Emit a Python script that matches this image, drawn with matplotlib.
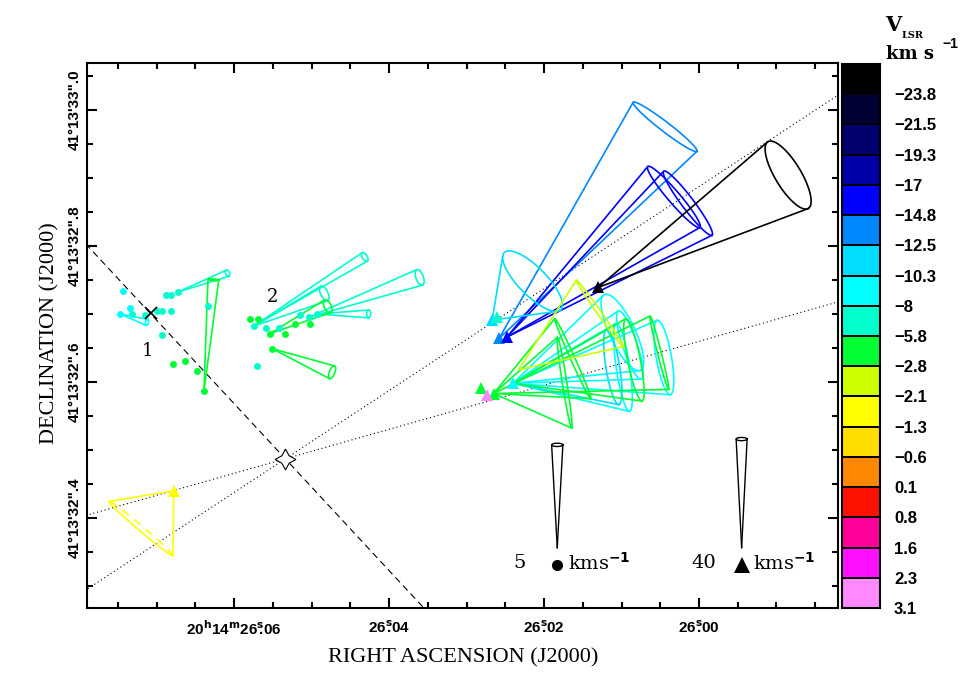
import numpy as np
import matplotlib.pyplot as plt
from matplotlib.colors import ListedColormap
from matplotlib.ticker import FixedLocator, MultipleLocator

plt.rcParams['mathtext.default'] = 'bf'

# ---------------- colour scale (V_LSR, km/s) ----------------
vlsr_levels = [-23.8, -21.5, -19.3, -17, -14.8, -12.5, -10.3, -8, -5.8,
               -2.8, -2.1, -1.3, -0.6, 0.1, 0.8, 1.6, 2.3, 3.1]
vlsr_colors = ['#000000', '#000033', '#00006e', '#0000a8', '#0000ff', '#0088ff',
               '#00ddff', '#00ffff', '#00ffcc', '#00ff33', '#ccff00', '#ffff00',
               '#ffdd00', '#ff8800', '#ff1100', '#ff0099', '#ff11ff', '#ff88ff']

# ---------------- source and reference lines ----------------
star_ra, star_dec = 26.0534, 32.487          # RA (s of 20h14m), Dec (" of 41d13')
line_pa = [42.6, 123.6, 106.0]                # position angles (deg)
line_style = [(0, (6, 4)), (0, (1, 2.5)), (0, (1, 2.5))]

# ---------------- circle features (5 km/s scale) ----------------
dot_ra = [26.0744, 26.0734, 26.0747, 26.0732, 26.0715, 26.0699, 26.0693, 26.0682,
          26.0693, 26.0688, 26.0682, 26.0673, 26.0634,
          26.0575, 26.0559, 26.0542, 26.0515, 26.0504, 26.0493, 26.0570,
          26.0679, 26.0663, 26.0648, 26.0639, 26.0579, 26.0569, 26.0554, 26.0535,
          26.0522, 26.0502, 26.0551]
dot_dec = [32.734, 32.709, 32.700, 32.700, 32.699, 32.704, 32.704, 32.705,
           32.669, 32.728, 32.728, 32.732, 32.711,
           32.682, 32.680, 32.679, 32.699, 32.695, 32.700, 32.624,
           32.626, 32.631, 32.616, 32.587, 32.692, 32.693, 32.671, 32.671,
           32.685, 32.685, 32.649]
dot_vlsr = [-8, -8, -8, -5.8, -5.8, -5.8, -5.8, -5.8, -5.8, -5.8, -5.8, -5.8, -5.8,
            -5.8, -5.8, -5.8, -5.8, -5.8, -5.8, -5.8,
            -2.8, -2.8, -2.8, -2.8, -2.8, -2.8, -2.8, -2.8, -2.8, -2.8, -2.8]

# 3D velocity cones of circle features: vx east, vy north (km/s)
dv_ra = [26.0747, 26.0673, 26.0639, 26.0575, 26.0575, 26.0504, 26.0493, 26.0554, 26.0551]
dv_dec = [32.700, 32.732, 32.587, 32.682, 32.682, 32.695, 32.700, 32.671, 32.649]
dv_vx = [-1.28, -2.40, -0.45, -5.34, -3.40, -5.34, -2.48, -2.78, -2.88]
dv_vy = [-0.41, 0.92, 5.39, 3.36, 1.59, 1.94, 0.0, 1.33, -1.15]
dv_err = [0.15, 0.16, 0.26, 0.24, 0.39, 0.40, 0.19, 0.34, 0.33]
dv_q = [0.5, 0.6, 0.15, 0.5, 0.45, 0.45, 0.5, 0.5, 0.4]
dv_vlsr = [-8, -5.8, -2.8, -5.8, -5.8, -5.8, -5.8, -2.8, -2.8]

# ---------------- triangle features (40 km/s scale) ----------------
tri_ra = [26.0258, 26.0248, 26.0130, 26.0267, 26.0261, 26.0240, 26.0265, 26.0282, 26.0274, 26.0678]
tri_dec = [32.664, 32.666, 32.739, 32.691, 32.695, 32.598, 32.583, 32.591, 32.581, 32.440]
tri_vlsr = [-12.5, -14.8, -23.8, -10.3, -5.8, -8, -2.8, -2.8, 3.1, -1.3]

tv_ra = [26.0258, 26.0248, 26.0248, 26.0130, 26.0267, 26.0240, 26.0240, 26.0240,
         26.0240, 26.0240, 26.0265, 26.0265, 26.0265, 26.0240, 26.0233, 26.0678]
tv_dec = [32.664, 32.666, 32.666, 32.739, 32.691, 32.598, 32.598, 32.598,
          32.598, 32.598, 32.583, 32.583, 32.583, 32.598, 32.618, 32.440]
tv_vx = [-60.4, -60.8, -65.9, -69.1, -14.7, -39.8, -54.9, -40.0, -36.3, -42.5,
         -25.8, -28.8, -60.3, -44.0, -29.6, 11.9]
tv_vy = [77.8, 51.5, 49.2, 41.3, 14.3, 18.7, 9.5, 5.9, 5.9, 14.1,
         4.0, 12.8, 15.0, 8.6, 20.7, -13.9]
tv_err = [14.7, 14.7, 14.7, 14.3, 14.7, 15.4, 13.9, 16.4, 13.9, 13.2,
          16.9, 16.1, 13.9, 15.4, 14.9, 15.3]
tv_q = [0.12, 0.15, 0.15, 0.33, 0.35, 0.3, 0.2, 0.15, 0.18, 0.2,
        0.05, 0.05, 0.05, 0.15, 0.05, 0.06]
tv_vlsr = [-12.5, -14.8, -14.8, -23.8, -10.3, -8, -8, -8, -10.3, -8,
           -2.8, -2.8, -2.8, -2.8, -2.1, -1.3]
tv_back_dashed = [False] * 15 + [True]

# ---------------- scales ----------------
SCALE_DOT = 0.0303    # arcsec per km/s
SCALE_TRI = 0.0040
KX = 15 * np.cos(np.radians(41 + 13 / 60 + 32.6 / 3600))   # arcsec per s of RA

bar_labels = ['5', '40']
bar_speed = [5.0, 40.0]
bar_err = [0.27, 2.0]
bar_ra = [26.0183, 25.9945]
bar_dec = [32.356, 32.356]


def vcolor(v):
    return vlsr_colors[int(np.argmin(np.abs(np.array(vlsr_levels) - v)))]


def cone(ax, ra, dec, vx, vy, err, q, scale, color, lw=1.2, back_dashed=False):
    tip = np.array([vx, vy]) * scale
    u = tip / np.hypot(*tip)
    p = np.array([-u[1], u[0]])
    t = np.linspace(0, 2 * np.pi, 361)
    rad = err * scale
    ring = tip + rad * np.cos(t)[:, None] * p + rad * q * np.sin(t)[:, None] * u
    ang = np.arctan2(ring @ p, ring @ u)

    def sky(xy):
        return ra + xy[:, 0] / KX, dec + xy[:, 1]

    for k in (ang.argmax(), ang.argmin()):
        xs, ys = sky(np.array([[0.0, 0.0], ring[k]]))
        ax.plot(xs, ys, color=color, lw=lw, solid_capstyle='round')
    if back_dashed:
        front = np.sin(t) >= 0
        xs, ys = sky(ring[front])
        ax.plot(xs, ys, color=color, lw=lw)
        xs, ys = sky(ring[~front])
        ax.plot(xs, ys, color=color, lw=lw, ls=(0, (5, 4)))
    else:
        xs, ys = sky(ring)
        ax.plot(xs, ys, color=color, lw=lw)


fig = plt.figure(figsize=(9.65, 6.79), dpi=100)
ax = fig.add_axes([87 / 965, 71 / 679, 751 / 965, 545 / 679])

# reference lines through the source
for pa, ls in zip(line_pa, line_style):
    d = np.array([-1.5, 1.5])
    ax.plot(star_ra + d * np.sin(np.radians(pa)) / KX, star_dec + d * np.cos(np.radians(pa)),
            color='black', lw=0.8, ls=ls)
ax.plot(star_ra, star_dec, marker=(4, 1, 0), ms=15, mfc='white', mec='black', mew=0.8, zorder=5)

# cones
for i in range(len(dv_ra)):
    cone(ax, dv_ra[i], dv_dec[i], dv_vx[i], dv_vy[i], dv_err[i], dv_q[i], SCALE_DOT,
         vcolor(dv_vlsr[i]))
for i in range(len(tv_ra)):
    cone(ax, tv_ra[i], tv_dec[i], tv_vx[i], tv_vy[i], tv_err[i], tv_q[i], SCALE_TRI,
         vcolor(tv_vlsr[i]), back_dashed=tv_back_dashed[i])

# feature markers
for r, d, v in zip(dot_ra, dot_dec, dot_vlsr):
    ax.plot(r, d, 'o', ms=5, color=vcolor(v), mew=0, zorder=4)
for r, d, v in zip(tri_ra, tri_dec, tri_vlsr):
    ax.plot(r, d, '^', ms=8, color=vcolor(v), mew=0, zorder=4)

ax.plot(26.0708, 32.701, 'x', ms=8, color='black', mew=1.2, zorder=6)
ax.text(26.0712, 32.646, '1', family='DejaVu Serif', fontsize=13, ha='center', va='center')
ax.text(26.0550, 32.725, '2', family='DejaVu Serif', fontsize=13, ha='center', va='center')

# scale bars
for lab, sp, er, scale, mk, r, d in zip(bar_labels, bar_speed, bar_err, [SCALE_DOT, SCALE_TRI],
                                        ['o', '^'], bar_ra, bar_dec):
    cone(ax, r, d, 1e-9, sp, er, 0.3, scale, 'black', lw=1.0)
    ax.plot(r, d - 0.025, mk, ms=8 if mk == 'o' else 11, color='black', mew=0)
    ax.annotate(lab, (r, d), xytext=(-27, -11), textcoords='offset points',
                family='DejaVu Serif', fontsize=14, ha='center', va='center')
    ax.annotate('kms$^{-1}$', (r, d), xytext=(8, -11), textcoords='offset points',
                family='DejaVu Serif', fontsize=14, ha='left', va='center')

# axes
ax.set_xlim(26.0790, 25.98206)
ax.set_ylim(32.2676, 33.069)
xt = [26.06, 26.04, 26.02, 26.00]
xlab = [r'20$^{h}$14$^{m}$26$^{s}\!\!$.06'] + [r'26$^{s}\!\!$.%02d' % round((v - 26) * 100) for v in xt[1:]]
ax.xaxis.set_major_locator(FixedLocator(xt))
ax.set_xticklabels(xlab, family='Liberation Sans', fontweight='bold', fontsize=11)
ax.xaxis.set_minor_locator(MultipleLocator(0.005))
yt = [32.4, 32.6, 32.8, 33.0]
ax.yaxis.set_major_locator(FixedLocator(yt))
ax.set_yticklabels(["41\u00b013'%s\".%s" % tuple(f'{v:.1f}'.split('.')) for v in yt],
                   family='Liberation Sans', fontweight='bold', fontsize=11,
                   rotation=90, va='center')
ax.yaxis.set_minor_locator(MultipleLocator(0.05))
ax.tick_params(which='both', direction='in', top=True, right=True, width=1.5)
ax.tick_params(which='major', length=7)
ax.tick_params(which='minor', length=4)
ax.tick_params(axis='x', pad=8)
ax.tick_params(axis='y', pad=4)
for s in ax.spines.values():
    s.set_linewidth(1.5)

fig.text(463 / 965, 1 - 658 / 679, 'RIGHT ASCENSION (J2000)', family='Liberation Serif',
         fontsize=16, ha='center', va='center')
fig.text(50 / 965, 1 - 333 / 679, 'DECLINATION (J2000)', family='Liberation Serif',
         fontsize=16, ha='center', va='center', rotation=90)

# colour bar
cax = fig.add_axes([842 / 965, 71 / 679, 38 / 965, 544 / 679])
n = len(vlsr_levels)
cax.pcolormesh(np.arange(n)[:, None], cmap=ListedColormap(vlsr_colors),
               edgecolors='black', linewidth=1.2)
cax.set_ylim(n, 0)
cax.set_xlim(0, 1)
cax.set_xticks([])
cax.yaxis.tick_right()
cax.set_yticks(np.arange(1, n + 1))
cax.set_yticklabels([f'{v:g}'.replace('-', '\u2212') for v in vlsr_levels],
                    family='Liberation Sans', fontweight='bold', fontsize=12)
cax.tick_params(axis='y', length=0, pad=10)
for s in cax.spines.values():
    s.set_linewidth(1.5)

fig.text(893 / 965, 1 - 25 / 679, 'V', family='DejaVu Serif', fontweight='bold',
         fontsize=15, ha='center', va='center')
fig.text(913 / 965, 1 - 36 / 679, 'LSR', family='DejaVu Serif', fontweight='bold',
         fontsize=7, ha='center', va='center')
fig.text(910 / 965, 1 - 54 / 679, 'km s', family='DejaVu Serif', fontweight='bold',
         fontsize=13, ha='center', va='center')
fig.text(950 / 965, 1 - 44 / 679, '\u22121', family='Liberation Sans', fontweight='bold',
         fontsize=10, ha='center', va='center')

fig.savefig('out.png', dpi=100)
